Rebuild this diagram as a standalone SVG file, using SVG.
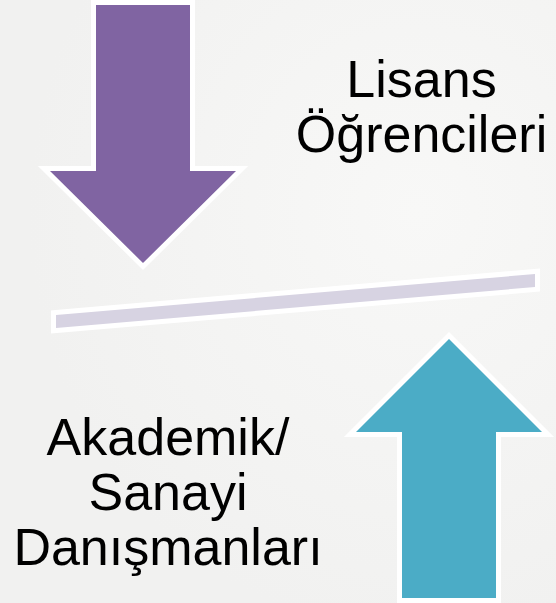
<svg xmlns="http://www.w3.org/2000/svg" width="556" height="603" viewBox="0 0 556 603">
<defs>
<style>
.lbl{font-family:"Liberation Sans",Arial,sans-serif;font-size:52px;fill:#000;text-anchor:middle}
.shape{stroke:#ffffff;stroke-width:10;stroke-linejoin:miter;paint-order:stroke}
</style>
<radialGradient id="bg" cx="0.75" cy="0.35" r="0.7">
<stop offset="0" stop-color="#f8f8f7"/>
<stop offset="1" stop-color="#f1f1f0"/>
</radialGradient>
</defs>
<rect x="0" y="0" width="556" height="603" fill="url(#bg)"/>
<g id="connectors">
<polygon id="bar" class="shape" points="56,315 535,274 535,287 56,328" fill="#d7d3e2"/>
</g>
<g id="arrow-down">
<polygon class="shape" points="96,5 190,5 190,171 236,171 143,263 50,171 96,171" fill="#8064a2"/>
</g>
<g id="arrow-up">
<polygon class="shape" points="449,339 542,432 496,432 496,598 402,598 402,432 356,432" fill="#4bacc6"/>
</g>
<g id="label-lisans">
<text class="lbl" x="421.5" y="97">Lisans</text>
<text class="lbl" x="421.5" y="152">Öğrencileri</text>
</g>
<g id="label-danisman">
<text class="lbl" x="168" y="455">Akademik/</text>
<text class="lbl" x="168" y="510">Sanayi</text>
<text class="lbl" x="168" y="565">Danışmanları</text>
</g>
</svg>
